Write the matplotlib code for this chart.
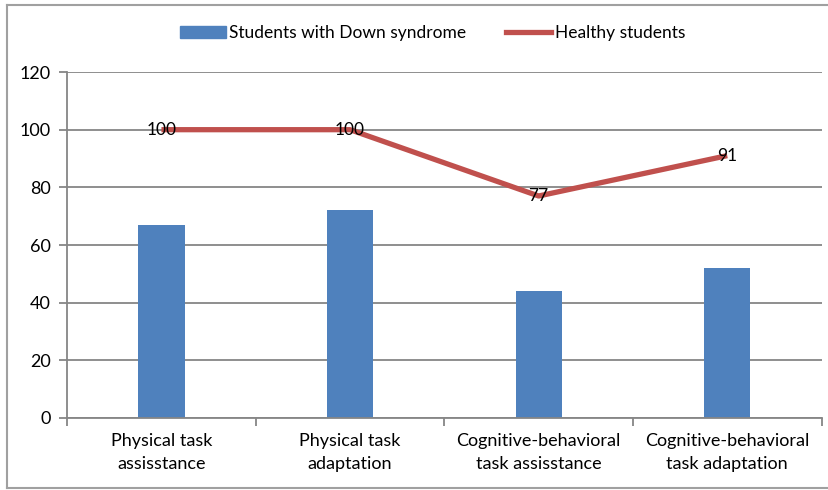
import numpy as np
import matplotlib.pyplot as plt
from matplotlib.lines import Line2D
from matplotlib.patches import Patch

plt.rcParams['font.family'] = ['Lato', 'DejaVu Sans']

categories = ["Physical task\nassisstance", "Physical task\nadaptation",
              "Cognitive-behavioral\ntask assisstance", "Cognitive-behavioral\ntask adaptation"]
down_syndrome = [67, 72, 44, 52]
healthy = [100, 100, 77, 91]

bar_color = '#4F81BD'
line_color = '#C0504D'
grid_color = '#868686'

fig = plt.figure(figsize=(8.29, 4.90), dpi=100)
ax = fig.add_axes([0.081, 0.147, 0.910, 0.706])

x = np.arange(len(categories))
ax.bar(x, down_syndrome, width=0.245, color=bar_color, zorder=2)
ax.plot(x, healthy, color=line_color, lw=3.8, solid_capstyle='butt', zorder=3)
for xi, v in zip(x, healthy):
    ax.text(xi, v, str(v), ha='center', va='center', fontsize=12.5, color='black', zorder=4)

ax.set_xlim(-0.5, len(categories) - 0.5)
ax.set_ylim(0, 120)
ax.set_yticks(range(0, 121, 20))
ax.yaxis.grid(True, color=grid_color, lw=1.3, zorder=0)
ax.set_axisbelow(True)

# category labels between boundary ticks
ax.set_xticks(np.arange(len(categories) + 1) - 0.5)
ax.set_xticklabels([])
ax.set_xticks(x, minor=True)
ax.set_xticklabels(categories, minor=True, fontsize=13)
for lbl in ax.get_xticklabels(minor=True):
    lbl.set_linespacing(1.55)
ax.tick_params(axis='x', which='minor', length=0, pad=11)
ax.tick_params(axis='x', which='major', length=6, color=grid_color, width=1.3)
ax.tick_params(axis='y', length=6, color=grid_color, width=1.3, labelsize=13, pad=6)

for side in ['top', 'right']:
    ax.spines[side].set_visible(False)
for side in ['left', 'bottom']:
    ax.spines[side].set_color(grid_color)
    ax.spines[side].set_linewidth(1.3)

handles = [Patch(color=bar_color), Line2D([0], [0], color=line_color, lw=3.8)]
fig.legend(handles, ["Students with Down syndrome", "Healthy students"],
           loc='center', bbox_to_anchor=(0.522, 0.932), ncol=2, frameon=False,
           fontsize=12.5, handlelength=2.6, handletextpad=0.2, columnspacing=2.3)

# outer chart border
fig.add_artist(Line2D([0.009, 0.009], [0.004, 0.99], color='#A0A0A0', lw=1.5, transform=fig.transFigure))
fig.add_artist(Line2D([0.009, 1.0], [0.99, 0.99], color='#A0A0A0', lw=1.5, transform=fig.transFigure))
fig.add_artist(Line2D([0.009, 1.0], [0.004, 0.004], color='#A0A0A0', lw=1.5, transform=fig.transFigure))

fig.savefig("out.png", dpi=100)
